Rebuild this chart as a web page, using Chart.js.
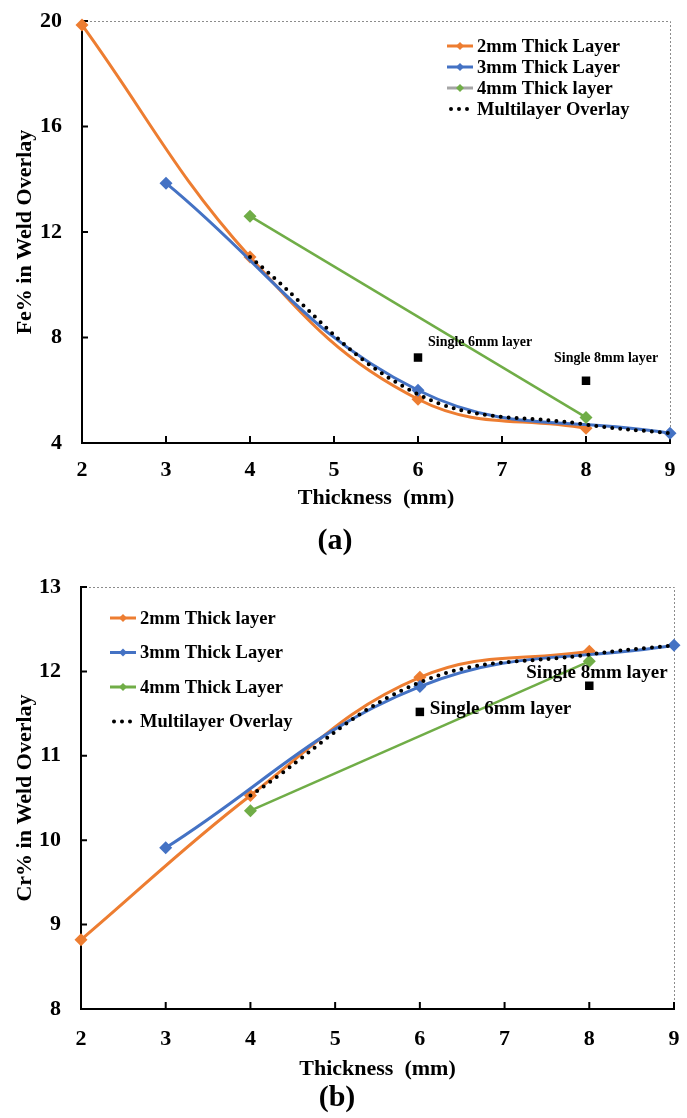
<!DOCTYPE html>
<html>
<head>
<meta charset="utf-8">
<script src="https://cdn.jsdelivr.net/npm/chart.js@4.4.0/dist/chart.umd.min.js"></script>
<style>
  html, body { margin: 0; padding: 0; background: #fff; }
  canvas { display: block; }
</style>
</head>
<body>
<canvas id="feChart" width="687" height="560"></canvas>
<canvas id="crChart" width="687" height="558"></canvas>
<script>
// thickness positions (mm) for each layer build-up
const thick2mm   = [2, 4, 6, 8];
const thick3mm   = [3, 6, 9];
const thick4mm   = [4, 8];
const thickMulti = [4, 6, 8, 9];
const thickSingle = [6, 8];

// (a) Fe% in weld overlay
const fe2mm    = [19.85, 11.05, 5.66, 4.56];
const fe3mm    = [13.85, 6.0, 4.37];
const fe4mm    = [12.6, 4.97];
const feMulti  = [11.05, 5.85, 4.7, 4.37];
const feSingle = [7.24, 6.36];

// (b) Cr% in weld overlay
const cr2mm    = [8.82, 10.53, 11.93, 12.24];
const cr3mm    = [9.91, 11.82, 12.31];
const cr4mm    = [10.35, 12.12];
const crMulti  = [10.53, 11.87, 12.2, 12.31];
const crSingle = [11.52, 11.83];

const feLegend = ['2mm Thick Layer', '3mm Thick Layer', '4mm Thick layer', 'Multilayer Overlay'];
const crLegend = ['2mm Thick layer', '3mm Thick Layer', '4mm Thick Layer', 'Multilayer Overlay'];
const singleLabels = ['Single 6mm layer', 'Single 8mm layer'];

const SERIF = '"Liberation Serif", "Times New Roman", serif';
Chart.defaults.font.family = SERIF;
Chart.defaults.font.weight = 'bold';
Chart.defaults.color = '#000';

const ORANGE = '#ED7D31', BLUE = '#4472C4', GREEN = '#70AD47';

const pts = (xs, ys) => xs.map((x, i) => ({ x, y: ys[i] }));

function diamond(ctx, x, y, r, color) {
  ctx.fillStyle = color;
  ctx.beginPath();
  ctx.moveTo(x - r, y); ctx.lineTo(x, y - r); ctx.lineTo(x + r, y); ctx.lineTo(x, y + r);
  ctx.closePath();
  ctx.fill();
}

// dotted top/right frame and inward tick marks
const frame = {
  id: 'frame',
  beforeDatasetsDraw(chart) {
    const { ctx, chartArea: a, scales: { x, y } } = chart;
    ctx.save();
    ctx.strokeStyle = '#8c8c8c';
    ctx.lineWidth = 1;
    ctx.setLineDash([2, 2]);
    ctx.beginPath();
    ctx.moveTo(a.left, a.top + 0.5);
    ctx.lineTo(a.right + 0.5, a.top + 0.5);
    ctx.lineTo(a.right + 0.5, a.bottom);
    ctx.stroke();
    ctx.setLineDash([]);
    ctx.strokeStyle = '#000';
    ctx.lineWidth = 2;
    ctx.beginPath();
    x.ticks.forEach(t => {
      const px = x.getPixelForValue(t.value);
      ctx.moveTo(px, a.bottom); ctx.lineTo(px, a.bottom - 7);
    });
    y.ticks.forEach(t => {
      const py = y.getPixelForValue(t.value);
      ctx.moveTo(a.left, py); ctx.lineTo(a.left + 6, py);
    });
    ctx.stroke();
    ctx.restore();
  }
};

// legend drawn inside the plot area
const insetLegend = {
  id: 'insetLegend',
  afterDraw(chart, args, o) {
    const { ctx } = chart;
    ctx.save();
    ctx.font = `bold ${o.size}px ${SERIF}`;
    ctx.textBaseline = 'middle';
    chart.data.datasets.slice(0, 4).forEach((ds, i) => {
      const y = o.y + i * o.gap;
      ctx.lineCap = 'butt';
      if (ds.borderDash && ds.borderDash.length) {
        ctx.strokeStyle = '#000';
        ctx.lineWidth = 4;
        ctx.lineCap = 'round';
        ctx.setLineDash([0, 8]);
        ctx.beginPath(); ctx.moveTo(o.x + 4, y); ctx.lineTo(o.x + 21, y); ctx.stroke();
        ctx.setLineDash([]);
      } else {
        ctx.strokeStyle = ds.legendLine || ds.borderColor;
        ctx.lineWidth = 3;
        ctx.beginPath(); ctx.moveTo(o.x, y); ctx.lineTo(o.x + o.len, y); ctx.stroke();
        diamond(ctx, o.x + o.len / 2, y, 4, ds.backgroundColor);
      }
      ctx.fillStyle = '#000';
      ctx.fillText(ds.label, o.x + o.len + 4, y + 1);
    });
    ctx.restore();
  }
};

// text next to the single-layer points
const singleNotes = {
  id: 'singleNotes',
  afterDatasetsDraw(chart, args, o) {
    const { ctx } = chart;
    const meta = chart.getDatasetMeta(4);
    ctx.save();
    ctx.font = `bold ${o.size}px ${SERIF}`;
    ctx.textBaseline = 'middle';
    ctx.textAlign = 'left';
    ctx.fillStyle = '#000';
    singleLabels.forEach((t, i) => {
      const p = meta.data[i];
      ctx.fillText(t, p.x + o.offsets[i][0], p.y + o.offsets[i][1]);
    });
    ctx.restore();
  }
};

function makeChart(id, s) {
  const line = (label, xs, ys, color, order, extra) => Object.assign({
    label, data: pts(xs, ys), borderColor: color, backgroundColor: color,
    borderWidth: 3, pointStyle: 'rectRot', pointRadius: 6.5, pointBorderWidth: 0,
    tension: 0.4, order, clip: false
  }, extra || {});

  return new Chart(document.getElementById(id), {
    type: 'line',
    data: {
      datasets: [
        line(s.legend[0], thick2mm, s.y2, ORANGE, 4),
        line(s.legend[1], thick3mm, s.y3, BLUE, 3),
        line(s.legend[2], thick4mm, s.y4, GREEN, 2, { borderWidth: 2.5, tension: 0, legendLine: s.greyLegend ? '#A5A5A5' : GREEN }),
        line(s.legend[3], thickMulti, s.yMulti, '#000', 1, {
          borderWidth: 4, borderDash: [0, 8], borderCapStyle: 'round', pointRadius: 0
        }),
        {
          label: 'Single layer', data: pts(thickSingle, s.ySingle), showLine: false,
          pointStyle: 'rect', pointRadius: 6, pointBorderWidth: 0,
          backgroundColor: '#000', borderColor: '#000', order: 0, clip: false
        }
      ]
    },
    options: {
      responsive: false,
      animation: false,
      events: [],
      layout: { autoPadding: false, padding: { top: s.top, right: s.right, left: 0, bottom: 0 } },
      scales: {
        x: {
          type: 'linear', min: 2, max: 9,
          ticks: { stepSize: 1, padding: s.xTickPad, font: { size: 22, weight: 'bold' }, color: '#000' },
          grid: { display: false, drawTicks: false },
          border: { display: true, color: '#000', width: 2 },
          title: { display: true, text: 'Thickness  (mm)', font: { size: 22, weight: 'bold' }, color: '#000', padding: { top: 0, bottom: 0 } },
          afterFit: sc => {
            sc.height = s.xHeight;
            sc.paddingLeft = 0; sc.paddingRight = 0;
          }
        },
        y: {
          min: s.yMin, max: s.yMax,
          ticks: { stepSize: s.yStep, padding: 20, font: { size: 22, weight: 'bold' }, color: '#000' },
          grid: { display: false, drawTicks: false },
          border: { display: true, color: '#000', width: 2 },
          title: { display: true, text: s.yTitle, font: { size: 22, weight: 'bold' }, color: '#000', padding: { top: 12, bottom: 0 } },
          afterFit: sc => {
            sc.width = s.yWidth;
            sc.paddingTop = 0; sc.paddingBottom = 0;
          }
        }
      },
      plugins: {
        legend: { display: false },
        tooltip: { enabled: false },
        title: {
          display: true, position: 'bottom', text: s.tag, color: '#000',
          font: { size: 30, weight: 'bold', lineHeight: 1 },
          padding: s.tagPad
        },
        insetLegend: s.legendBox,
        singleNotes: s.notes
      }
    },
    plugins: [frame, singleNotes, insetLegend]
  });
}

makeChart('feChart', {
  y2: fe2mm, y3: fe3mm, y4: fe4mm, yMulti: feMulti, ySingle: feSingle,
  legend: feLegend, greyLegend: true,
  yMin: 4, yMax: 20, yStep: 4, yTitle: 'Fe% in Weld Overlay', tag: '(a)',
  top: 21, right: 17, yWidth: 82, xHeight: 69, xTickPad: 14,
  tagPad: { top: 14, bottom: 4 },
  legendBox: { x: 447, y: 46, gap: 21, len: 26, size: 18.5 },
  notes: { size: 14, offsets: [[10, -15], [-32, -22]] }
});

makeChart('crChart', {
  y2: cr2mm, y3: cr3mm, y4: cr4mm, yMulti: crMulti, ySingle: crSingle,
  legend: crLegend, greyLegend: false,
  yMin: 8, yMax: 13, yStep: 1, yTitle: 'Cr% in Weld Overlay', tag: '(b)',
  top: 27, right: 13, yWidth: 81, xHeight: 74, xTickPad: 17,
  tagPad: { top: 0, bottom: 5 },
  legendBox: { x: 110, y: 58, gap: 34.5, len: 26, size: 18.5 },
  notes: { size: 19, offsets: [[10, -3], [-63, -13]] }
});
</script>
</body>
</html>
